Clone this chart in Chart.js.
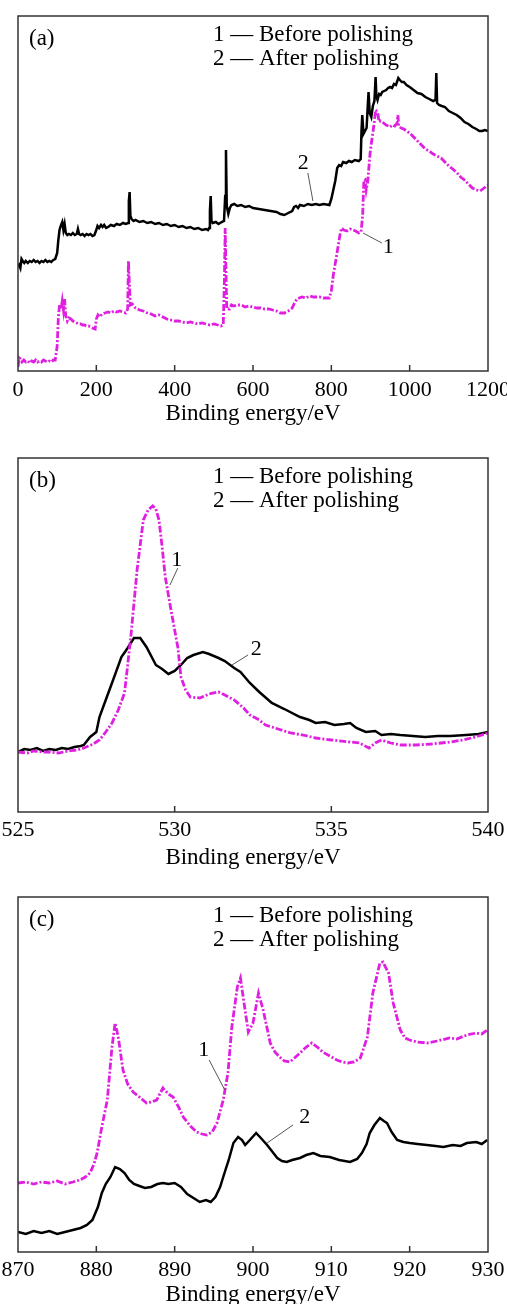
<!DOCTYPE html>
<html>
<head>
<meta charset="utf-8">
<title>XPS spectra before and after polishing</title>
<script src="https://cdn.jsdelivr.net/npm/chart.js@4.4.1/dist/chart.umd.min.js"></script>
<style>
    html, body { margin: 0; padding: 0; background: #fff; width: 507px; height: 1304px; overflow: hidden; }
    .panel { position: absolute; left: 0; width: 507px; }
    canvas { display: block; }
</style>
</head>
<body>
<div class="panel" style="top:0px"><canvas id="chartA" width="507" height="428"></canvas></div>
<div class="panel" style="top:420px"><canvas id="chartB" width="507" height="452"></canvas></div>
<div class="panel" style="top:862px"><canvas id="chartC" width="507" height="447"></canvas></div>
<script>
// Данные спектров (интенсивность в отн. ед.)
const seriesNames = ['Before polishing', 'After polishing'];
const axisTitle = 'Binding energy/eV';

// (a) обзорный спектр
const aEnergyBefore = [0, 3, 6, 10, 15, 20, 25, 30, 35, 40, 45, 50, 55, 60, 65, 70, 75, 80, 85, 90, 95, 100, 103, 106, 110, 113, 116, 119, 122, 126, 130, 135, 140, 145, 150, 155, 160, 165, 170, 175, 180, 185, 190, 197, 200, 204, 208, 215, 222, 230, 237, 245, 252, 260, 268, 275, 280, 282, 284, 287, 292, 300, 310, 320, 330, 340, 350, 360, 370, 380, 390, 400, 410, 420, 430, 440, 450, 460, 470, 480, 490, 500, 510, 518, 524, 527, 529, 531, 533, 540, 545, 550, 560, 570, 580, 590, 600, 610, 620, 630, 640, 650, 660, 670, 680, 690, 700, 706, 712, 718, 725, 735, 745, 755, 770, 780, 795, 800, 805, 812, 817, 822, 826, 832, 840, 848, 855, 862, 870, 876, 880, 883, 886, 889, 893, 899, 903, 906, 910, 913, 918, 922, 926, 930, 940, 950, 956, 962, 968, 970, 972, 978, 985, 992, 1000, 1010, 1020, 1030, 1040, 1050, 1060, 1070, 1080, 1090, 1100, 1110, 1121, 1130, 1140, 1150, 1160, 1170, 1180, 1190, 1200];
const aBefore = [4, 13, 12, 9, 11, 9, 10, 8, 10, 9, 11, 9, 10, 9, 11, 10, 9, 10, 9, 11, 11, 25, 53, 66, 62, 70, 61, 72, 55, 50, 53, 52, 50, 49, 48, 47, 47, 46, 46, 45, 45, 44, 43, 42, 52, 56, 54, 57, 58, 59, 58, 60, 59, 60, 59, 58, 62, 110, 90, 66, 67, 63, 61, 60, 58, 57, 55, 56, 54, 52, 51, 50, 50, 49, 48, 49, 48, 47, 48, 47, 46, 47, 46, 45, 46, 90, 143, 100, 62, 62, 66, 65, 66, 66, 64, 65, 64, 63, 63, 62, 62, 61, 60, 58, 58, 60, 63, 68, 72, 73, 74, 73, 75, 74, 74, 73, 73, 80, 96, 112, 124, 136, 143, 141, 140, 142, 141, 140, 138, 139, 156, 190, 191, 181, 190, 218, 230, 238, 250, 261, 259, 249, 250, 249, 246, 244, 246, 245, 248, 256, 245, 243, 242, 240, 238, 234, 230, 226, 222, 220, 217, 215, 213, 209, 205, 202, 198, 194, 191, 187, 183, 181, 180, 183, 186];
const aEnergyAfter = [0, 3, 6, 9, 12, 16, 20, 25, 30, 35, 40, 45, 50, 55, 60, 65, 70, 75, 80, 85, 90, 95, 100, 103, 106, 110, 113, 116, 119, 122, 126, 130, 135, 140, 145, 150, 153, 156, 160, 165, 170, 175, 180, 185, 190, 195, 199, 203, 207, 212, 216, 220, 225, 230, 237, 245, 252, 260, 268, 275, 281, 283, 285, 287, 290, 295, 300, 310, 320, 330, 340, 350, 360, 370, 380, 390, 400, 410, 420, 430, 440, 450, 460, 470, 480, 485, 488, 490, 492, 494, 497, 505, 512, 520, 526, 529, 531, 533, 537, 541, 545, 552, 560, 570, 580, 590, 600, 615, 630, 645, 660, 670, 680, 690, 700, 705, 710, 715, 720, 730, 740, 750, 760, 770, 780, 795, 800, 805, 810, 815, 820, 825, 830, 838, 845, 852, 860, 870, 875, 877, 879, 882, 886, 890, 893, 895, 898, 902, 906, 910, 913, 915, 918, 922, 926, 930, 935, 940, 945, 950, 955, 960, 965, 971, 975, 980, 985, 992, 1000, 1010, 1020, 1030, 1040, 1050, 1060, 1066, 1068, 1070, 1075, 1082, 1090, 1100, 1110, 1120, 1130, 1140, 1150, 1160, 1170, 1178, 1185, 1192, 1200];
const aAfter = [104, 106, 103, 112, 110, 108, 110, 108, 110, 109, 111, 109, 110, 108, 110, 109, 111, 109, 110, 109, 111, 112, 118, 131, 141, 146, 149, 141, 147, 138, 136, 137, 136, 138, 136, 137, 142, 137, 136, 137, 135, 137, 136, 137, 135, 136, 140, 145, 143, 146, 144, 146, 143, 144, 146, 145, 147, 146, 148, 147, 148, 170, 179, 155, 152, 150, 151, 149, 150, 148, 149, 147, 148, 146, 147, 145, 146, 144, 145, 143, 144, 142, 143, 141, 142, 141, 143, 160, 175, 150, 148, 149, 147, 149, 150, 175, 221, 165, 157, 163, 166, 167, 165, 166, 164, 165, 163, 162, 161, 160, 159, 157, 156, 158, 160, 164, 165, 163, 166, 165, 167, 166, 167, 166, 167, 166, 172, 181, 190, 203, 206, 205, 209, 208, 210, 209, 211, 210, 212, 240, 256, 237, 240, 243, 265, 279, 258, 254, 265, 270, 294, 275, 271, 277, 276, 279, 280, 281, 283, 284, 283, 287, 286, 293, 291, 289, 289, 286, 284, 281, 278, 277, 274, 272, 270, 271, 298, 268, 266, 265, 264, 260, 258, 256, 253, 249, 247, 244, 242, 240, 240, 241, 240];

// (b) O 1s
const bEnergyBefore = [525.0, 525.3, 525.5, 525.8, 526.0, 526.3, 526.6, 526.9, 527.1, 527.4, 527.6, 527.8, 528.0, 528.2, 528.4, 528.6, 528.8, 529.0, 529.15, 529.3, 529.4, 529.5, 529.6, 529.7, 529.9, 530.1, 530.2, 530.35, 530.5, 530.8, 531.1, 531.4, 531.6, 531.9, 532.2, 532.4, 532.7, 532.9, 533.3, 533.7, 534.1, 534.5, 535.0, 535.6, 535.9, 536.2, 536.4, 536.6, 536.9, 537.2, 537.7, 538.2, 538.8, 539.2, 539.6, 540.0];
const bBefore = [60, 59, 61, 60, 60, 59, 61, 62, 64, 68, 72, 80, 89, 102, 119, 175, 242, 292, 302, 306, 303, 292, 265, 235, 199, 165, 135, 122, 115, 114, 118, 120, 117, 112, 104, 97, 92, 87, 83, 79, 77, 74, 72, 70, 69, 64, 69, 72, 69, 67, 67, 68, 70, 72, 75, 79];
const bEnergyAfter = [525.0, 525.2, 525.4, 525.6, 525.8, 526.0, 526.2, 526.4, 526.6, 526.8, 527.0, 527.1, 527.3, 527.5, 527.6, 527.8, 528.0, 528.3, 528.5, 528.7, 528.9, 529.1, 529.4, 529.6, 529.8, 530.0, 530.2, 530.4, 530.6, 530.9, 531.1, 531.4, 531.6, 531.9, 532.1, 532.4, 532.7, 533.1, 533.5, 534.0, 534.3, 534.5, 534.8, 535.1, 535.4, 535.6, 535.8, 536.1, 536.4, 536.6, 536.9, 537.2, 537.6, 538.0, 538.4, 538.8, 539.3, 539.7, 540.0];
const bAfter = [60, 63, 62, 64, 61, 63, 62, 64, 63, 65, 66, 67, 75, 80, 95, 112, 129, 155, 164, 174, 174, 165, 147, 143, 138, 141, 147, 154, 157, 160, 158, 154, 151, 144, 140, 129, 120, 109, 103, 95, 92, 89, 90, 87, 88, 89, 84, 80, 81, 77, 78, 77, 76, 75, 76, 76, 77, 78, 80];

// (c) Ce 3d
const cEnergyBefore = [870, 871, 872, 873, 874, 875, 876, 877, 877.9, 878.6, 879.2, 879.7, 880.1, 880.7, 881.4, 882.0, 882.4, 882.8, 883.4, 884.0, 884.7, 885.5, 886.4, 887.0, 887.7, 888.5, 889.2, 889.8, 890.5, 891.1, 892.0, 892.8, 893.5, 894.1, 894.8, 895.4, 896.2, 896.8, 897.3, 898.0, 898.4, 898.8, 899.4, 900.0, 900.7, 901.3, 902.2, 902.8, 903.4, 904.0, 904.7, 905.3, 906.0, 906.8, 907.5, 908.2, 908.9, 909.8, 910.7, 911.4, 912.1, 912.9, 913.7, 914.6, 915.3, 916.2, 916.6, 917.3, 917.9, 918.8, 919.4, 920.0, 921.0, 922.2, 923.5, 925.1, 926.0, 927.3, 928.5, 929.2, 929.9];
const cBefore = [69, 70, 68, 70, 69, 71, 68, 70, 72, 75, 79, 88, 99, 125, 152, 205, 229, 215, 182, 168, 160, 155, 149, 150, 152, 164, 158, 155, 145, 135, 126, 120, 118, 117, 120, 129, 152, 179, 225, 265, 274, 252, 220, 229, 259, 242, 209, 200, 195, 191, 190, 194, 199, 205, 209, 205, 200, 196, 192, 190, 189, 190, 194, 215, 259, 289, 290, 279, 249, 222, 214, 212, 210, 209, 211, 214, 213, 217, 219, 218, 222];
const cEnergyAfter = [870, 871, 872, 873, 874, 875, 876, 877, 878, 878.8, 879.5, 880.2, 880.7, 881.2, 881.8, 882.4, 883.0, 883.6, 884.2, 884.8, 885.5, 886.2, 887.0, 887.8, 888.5, 889.2, 890.0, 890.8, 891.6, 892.4, 893.2, 894.0, 894.6, 895.2, 895.8, 896.4, 896.9, 897.5, 898.1, 898.6, 899.0, 899.6, 900.4, 901.0, 901.8, 902.5, 903.1, 903.7, 904.3, 905.0, 906.0, 906.8, 907.7, 908.6, 909.8, 911.0, 912.4, 913.3, 913.9, 914.5, 914.9, 915.5, 916.2, 916.7, 917.1, 917.7, 918.4, 919.2, 920.0, 921.0, 922.2, 923.3, 924.3, 925.5, 926.5, 927.3, 928.5, 929.2, 929.9];
const cAfter = [20, 18, 21, 19, 21, 18, 20, 22, 24, 27, 32, 45, 59, 68, 75, 85, 83, 79, 72, 68, 66, 64, 65, 68, 69, 68, 69, 65, 58, 54, 50, 52, 50, 55, 65, 80, 92, 109, 115, 112, 107, 112, 119, 114, 107, 100, 94, 91, 90, 92, 94, 97, 99, 96, 95, 92, 90, 93, 99, 108, 119, 127, 134, 131, 129, 120, 112, 110, 109, 108, 107, 106, 105, 107, 106, 109, 110, 108, 112];

// Подписи кривых "1" и "2" с выносками (в координатах данных)
const aNotes = [
    { text: '2', x: 728, y: 208, from: [740, 198], to: [753, 170] },
    { text: '1', x: 945, y: 124, from: [929, 128], to: [881, 138] }
];
const bNotes = [
    { text: '1', x: 530.07, y: 252, from: [530.1, 244], to: [529.85, 227] },
    { text: '2', x: 532.6, y: 163, from: [532.34, 157], to: [531.83, 147] }
];
const cNotes = [
    { text: '1', x: 893.7, y: 202, from: [894.4, 192], to: [896.4, 162] },
    { text: '2', x: 906.6, y: 135, from: [905.1, 127], to: [901.8, 109] }
];

const SERIF = '"Liberation Serif", "Times New Roman", serif';

// Плагин: рамка, внутренние засечки, буква панели, легенда и выноски
const framePlugin = {
    id: 'frame',
    afterDraw(chart, args, opts) {
        const { ctx, chartArea: a, scales: { x, y } } = chart;
        ctx.save();

        ctx.strokeStyle = '#333';
        ctx.lineWidth = 1.5;
        ctx.strokeRect(a.left, a.top, a.right - a.left, a.bottom - a.top);

        ctx.beginPath();
        x.ticks.forEach(t => {
            const px = x.getPixelForValue(t.value);
            if (px <= a.left + 1 || px >= a.right - 1) return;
            ctx.moveTo(px, a.bottom);
            ctx.lineTo(px, a.bottom - 6);
        });
        ctx.stroke();

        ctx.fillStyle = '#000';
        ctx.textBaseline = 'middle';
        ctx.font = '23px ' + SERIF;
        ctx.fillText(opts.letter, a.left + 11, a.top + 23);
        chart.data.datasets.forEach((ds, i) => {
            ctx.fillText((i + 1) + ' \u2014 ' + ds.label, a.left + 195, a.top + 19 + i * 24);
        });

        ctx.font = '22px ' + SERIF;
        ctx.textAlign = 'center';
        ctx.strokeStyle = '#555';
        ctx.lineWidth = 1;
        opts.notes.forEach(n => {
            ctx.fillText(n.text, x.getPixelForValue(n.x), y.getPixelForValue(n.y));
            ctx.beginPath();
            ctx.moveTo(x.getPixelForValue(n.from[0]), y.getPixelForValue(n.from[1]));
            ctx.lineTo(x.getPixelForValue(n.to[0]), y.getPixelForValue(n.to[1]));
            ctx.stroke();
        });
        ctx.restore();
    }
};

function toPoints(xs, ys) {
    return xs.map((v, i) => ({ x: v, y: ys[i] }));
}

// Создание одной панели
function createPanel(id, p) {
    const ctx = document.getElementById(id).getContext('2d');
    new Chart(ctx, {
        type: 'line',
        data: {
            datasets: [
                {
                    label: seriesNames[0],
                    data: toPoints(p.eBefore, p.before),
                    borderColor: '#e020e0',
                    borderWidth: 2.8,
                    borderDash: [7, 2, 2, 2],
                    pointRadius: 0,
                    tension: 0
                },
                {
                    label: seriesNames[1],
                    data: toPoints(p.eAfter, p.after),
                    borderColor: '#000',
                    borderWidth: 2.5,
                    pointRadius: 0,
                    tension: 0
                }
            ]
        },
        options: {
            responsive: false,
            animation: false,
            layout: { padding: { left: 18, right: 19, top: p.padTop, bottom: 0 } },
            plugins: {
                legend: { display: false },
                tooltip: { enabled: false },
                frame: { letter: p.letter, notes: p.notes }
            },
            scales: {
                x: {
                    type: 'linear',
                    min: p.min,
                    max: p.max,
                    grid: { display: false, drawTicks: false },
                    border: { display: false },
                    ticks: {
                        stepSize: p.step,
                        autoSkip: false,
                        maxRotation: 0,
                        padding: p.tickPad,
                        color: '#000',
                        font: { family: SERIF, size: 22 },
                        callback: v => String(v)
                    },
                    title: {
                        display: true,
                        text: axisTitle,
                        color: '#000',
                        padding: 0,
                        font: { family: SERIF, size: 23 }
                    },
                    afterFit: scale => {
                        scale.paddingLeft = 0;
                        scale.paddingRight = 0;
                        scale.height = p.axisH;
                    }
                },
                y: { display: false, min: 0, max: p.yMax }
            }
        },
        plugins: [framePlugin]
    });
}

createPanel('chartA', {
    letter: '(a)', min: 0, max: 1200, step: 200, yMax: 355, padTop: 16, tickPad: 6, axisH: 57,
    eBefore: aEnergyBefore, before: aBefore, eAfter: aEnergyAfter, after: aAfter, notes: aNotes
});
createPanel('chartB', {
    letter: '(b)', min: 525, max: 540, step: 5, yMax: 354, padTop: 38, tickPad: 5, axisH: 60,
    eBefore: bEnergyBefore, before: bBefore, eAfter: bEnergyAfter, after: bAfter, notes: bNotes
});
createPanel('chartC', {
    letter: '(c)', min: 870, max: 930, step: 10, yMax: 355, padTop: 35, tickPad: 5, axisH: 57,
    eBefore: cEnergyBefore, before: cBefore, eAfter: cEnergyAfter, after: cAfter, notes: cNotes
});
</script>
</body>
</html>
